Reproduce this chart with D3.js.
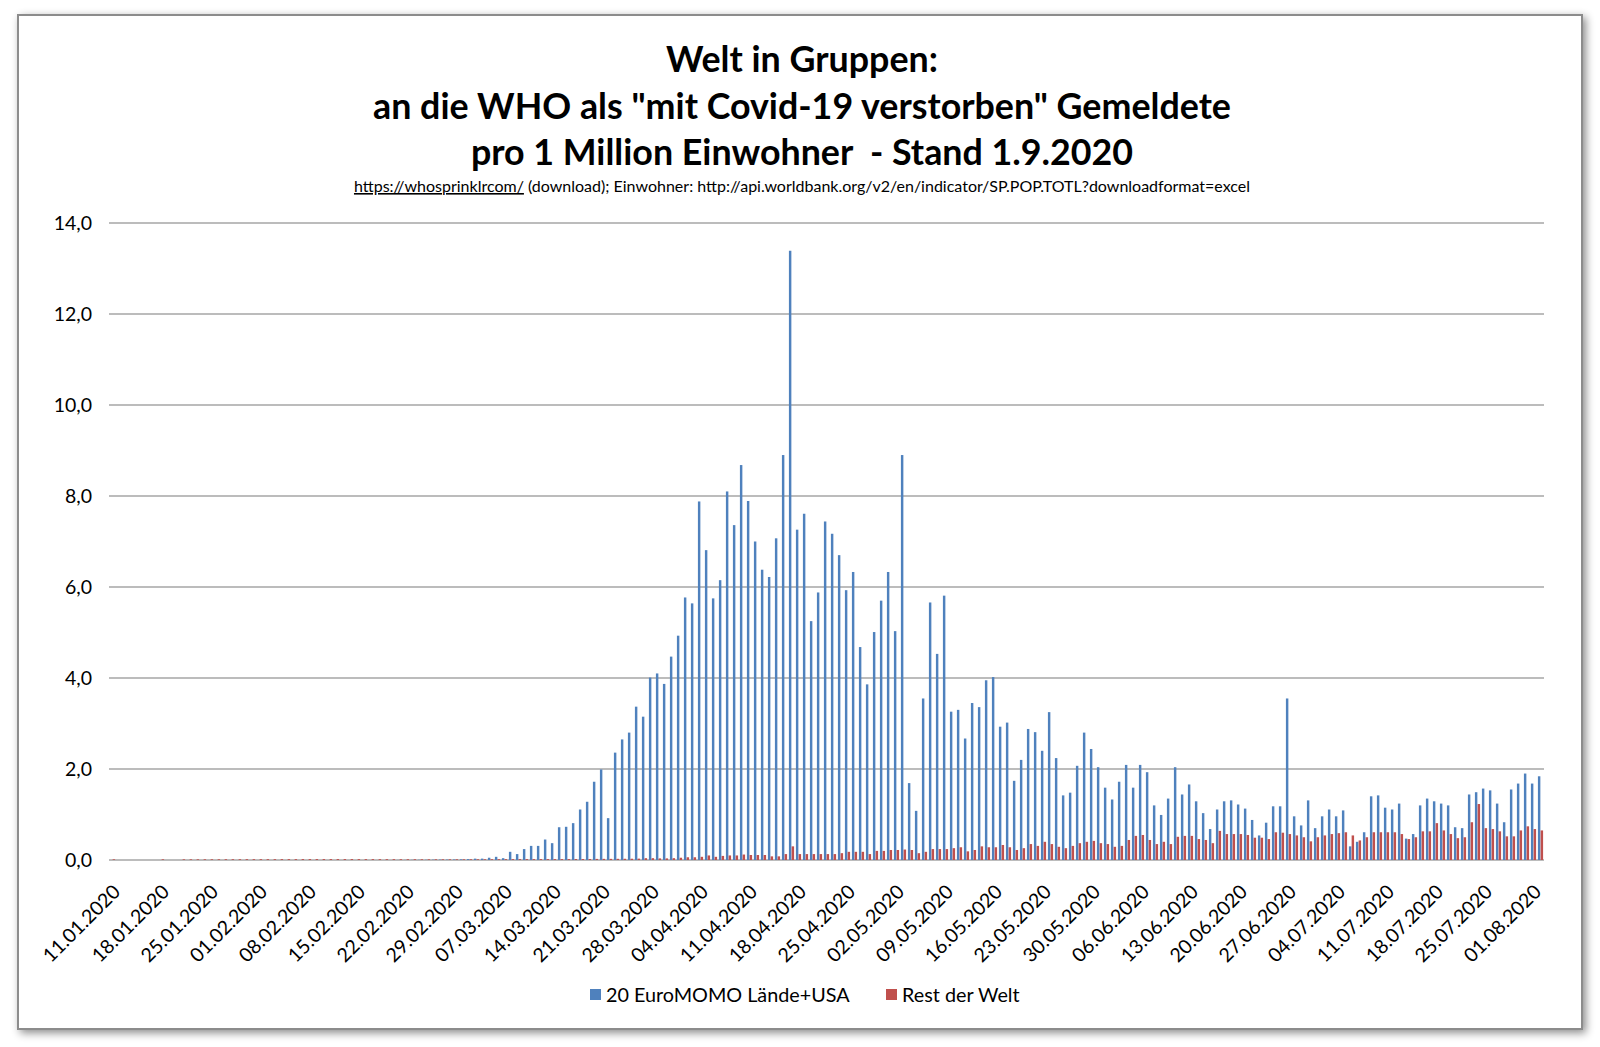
<!DOCTYPE html>
<html><head><meta charset="utf-8">
<script src="https://cdn.jsdelivr.net/npm/d3@7"></script>
<style>
html,body{margin:0;padding:0;background:#fff;}
svg{display:block;}
text{font-family:Lato,"Open Sans",sans-serif;fill:#000;}
</style></head>
<body><svg id="c" width="1600" height="1047"></svg>
<script>
// ---- data ----
const startDate = "2020-01-11";
const tickLabels = ["11.01.2020","18.01.2020","25.01.2020","01.02.2020","08.02.2020","15.02.2020","22.02.2020","29.02.2020","07.03.2020","14.03.2020","21.03.2020","28.03.2020","04.04.2020","11.04.2020","18.04.2020","25.04.2020","02.05.2020","09.05.2020","16.05.2020","23.05.2020","30.05.2020","06.06.2020","13.06.2020","20.06.2020","27.06.2020","04.07.2020","11.07.2020","18.07.2020","25.07.2020","01.08.2020"];
const yTicks = [0,2,4,6,8,10,12,14];
const seriesNames = ["20 EuroMOMO Lände+USA","Rest der Welt"];
const euroMomoUSA = [
0,0,0,0,0,0,0,0,0,0, 0,0,0,0,0,0,0,0,0,0, 0,0,0,0,0,0,0,0,0,0, 0,0,0,0,0,0,0,0,0,0, 0,
0.002,0.003,0.004,0.005,0.006,0.008,0.01,0.01,0.012,0.015,0.02,0.03,
0.03,0.05,0.07,0.04,
0.18,0.13,0.24,0.31,0.31,0.45,0.37,0.72,0.73,0.81,
1.11,1.28,1.72,1.99,0.92,2.36,2.65,2.80,3.37,3.15,
4.01,4.10,3.87,4.47,4.93,5.77,5.64,7.88,6.81,5.75,
6.15,8.10,7.36,8.68,7.89,7.00,6.38,6.22,7.07,8.90,
13.39,7.26,7.61,5.25,5.88,7.44,7.17,6.70,5.93,6.33,
4.68,3.86,5.01,5.70,6.33,5.03,8.90,1.69,1.08,3.55,
5.66,4.53,5.81,3.26,3.30,2.67,3.45,3.36,3.95,4.02,
2.93,3.02,1.74,2.20,2.88,2.81,2.40,3.25,2.24,1.42,
1.48,2.07,2.80,2.44,2.04,1.59,1.33,1.72,2.09,1.59,
2.09,1.93,1.20,0.99,1.35,2.04,1.44,1.66,1.29,1.03,
0.68,1.11,1.29,1.31,1.22,1.13,0.88,0.54,0.82,1.18,
1.18,3.55,0.96,0.76,1.31,0.70,0.96,1.11,0.96,1.09,
0.30,0.40,0.61,1.40,1.42,1.15,1.11,1.24,0.47,0.57,
1.20,1.35,1.29,1.24,1.20,0.72,0.70,1.44,1.49,1.57,
1.53,1.24,0.83,1.55,1.68,1.90,1.68,1.84];
const restDerWelt = [
0.015,0,0,0,0,0,0,0.015,0,0,
0.015,0.015,0.015,0.016,0.016,0.016,0.017,0.017,0.017,0.018,
0.018,0.018,0.018,0.018,0.019,0.019,0.019,0.02,0.02,0.02,
0.02,0.02,0.02,0.02,0.02,0.019,0.019,0.019,0.018,0.018,
0.018,0.017,0.017,0.017,0.016,0.016,0.016,0.016,0.016,0.016,
0.016,0.017,0.017,
0.017,0.018,0.018,0.019,0.02,0.02,0.02,0.02,0.02,0.02,0.02,0.02,0.02,0.022,0.022,0.022,0.024,
0.025,0.025,0.026,0.027,0.028,0.03,0.04,0.04,0.035,0.035,
0.04,0.05,0.06,0.06,0.07,0.10,0.07,0.09,0.10,0.10,0.12,
0.11,0.11,0.11,0.08,0.08,0.13,0.30,0.13,0.13,0.13,
0.13,0.13,0.13,0.15,0.18,0.18,0.18,0.13,0.20,0.20,
0.22,0.22,0.23,0.22,0.15,0.18,0.24,0.24,0.24,0.26,
0.28,0.19,0.22,0.30,0.28,0.28,0.33,0.28,0.22,0.26,
0.35,0.31,0.40,0.35,0.29,0.26,0.31,0.37,0.40,0.42,
0.37,0.35,0.29,0.31,0.44,0.53,0.55,0.44,0.35,0.40,
0.35,0.51,0.53,0.53,0.46,0.44,0.37,0.64,0.57,0.57,
0.57,0.55,0.49,0.49,0.46,
0.61,0.60,0.57,0.54,0.50,0.41,0.50,0.54,0.57,0.59,
0.61,0.54,0.43,0.50,0.61,0.61,0.61,0.61,0.57,0.46,
0.50,0.63,0.63,0.81,0.65,0.57,0.48,0.50,0.83,1.23,
0.70,0.68,0.63,0.52,0.52,0.65,0.74,0.68,0.65];
const colors = ["#4F81BD","#C0504D"];

// categories (dates)
const fmt = d3.timeFormat("%d.%m.%Y");
const d0 = d3.timeParse("%Y-%m-%d")(startDate);
const categories = euroMomoUSA.map((_, i) => fmt(d3.timeDay.offset(d0, i)));

// ---- drawing ----
const svg = d3.select("#c");
const defs = svg.append("defs");
const f = defs.append("filter").attr("id","sh").attr("x","-5%").attr("y","-5%").attr("width","110%").attr("height","110%");
f.append("feDropShadow").attr("dx",3).attr("dy",3).attr("stdDeviation",4).attr("flood-color","#000").attr("flood-opacity",0.45);

svg.append("rect").attr("x",18).attr("y",15).attr("width",1564).attr("height",1014)
  .attr("fill","#fff").attr("stroke","#8c8c8c").attr("stroke-width",2).attr("filter","url(#sh)");

const cx = 802;
const title = ["Welt in Gruppen:", "an die WHO als \"mit Covid-19 verstorben\" Gemeldete", "pro 1 Million Einwohner  - Stand 1.9.2020"];
const tBase = [72, 119, 165];
title.forEach((t,i)=>svg.append("text").attr("x",cx).attr("y",tBase[i]).attr("text-anchor","middle")
  .style("font-weight","bold").style("font-size","35.8px").style("white-space","pre").text(t));
const sub = svg.append("text").attr("x",cx).attr("y",192).attr("text-anchor","middle").style("font-size","16px");
sub.append("tspan").attr("text-decoration","underline").text("https://whosprinklrcom/");
sub.append("tspan").text(" (download); Einwohner: http://api.worldbank.org/v2/en/indicator/SP.POP.TOTL?downloadformat=excel");

const X0 = 109, X1 = 1544, Y0 = 860, Y1 = 223;
const x = d3.scaleBand().domain(d3.range(categories.length)).range([X0, X1]).paddingInner(0.26).paddingOuter(0.13);
const xs = d3.scaleBand().domain([0,1]).range([0, x.bandwidth()]).paddingInner(0.1);
const y = d3.scaleLinear().domain([0,14]).range([Y0, Y1]);

// gridlines
svg.append("g").selectAll("line").data(yTicks).join("line")
  .attr("x1",X0).attr("x2",X1).attr("y1",d=>y(d)).attr("y2",d=>y(d))
  .attr("stroke","#a6a6a6").attr("stroke-width",1.6);

// y axis
const yAx = svg.append("g").attr("transform",`translate(${X0},0)`)
  .call(d3.axisLeft(y).tickValues(yTicks).tickSize(0).tickPadding(17).tickFormat(d=>d3.format(".1f")(d).replace(".",",")));
yAx.select(".domain").remove();
yAx.selectAll("text").style("font-size","19.5px").style("font-family","Lato, sans-serif").attr("fill","#000");

// bars
const series = [euroMomoUSA, restDerWelt];
series.forEach((vals, s) => {
  svg.append("g").selectAll("rect").data(vals).join("rect")
    .attr("x",(d,i)=>x(i)+xs(s)).attr("width",xs.bandwidth())
    .attr("y",d=>y(d)).attr("height",d=>Y0-y(d)).attr("fill",colors[s]);
});

// x axis
const xAx = svg.append("g").attr("transform",`translate(0,${Y0})`)
  .call(d3.axisBottom(x).tickValues(d3.range(0,categories.length,7)).tickSize(0).tickFormat(i=>tickLabels[i/7]));
xAx.select(".domain").remove();
xAx.selectAll("text").style("font-size","19.5px").style("font-family","Lato, sans-serif").attr("fill","#000")
  .attr("text-anchor","end").attr("dy",0).attr("y",0)
  .attr("transform","translate(9,33) rotate(-45)");

// legend
const leg = [{x:590, t:seriesNames[0]}, {x:886, t:seriesNames[1]}];
leg.forEach((l,i)=>{
  svg.append("rect").attr("x",l.x).attr("y",989).attr("width",11).attr("height",11).attr("fill",colors[i]);
  svg.append("text").attr("x",l.x+16).attr("y",1002).style("font-size","19.8px").text(l.t);
});
</script></body></html>
